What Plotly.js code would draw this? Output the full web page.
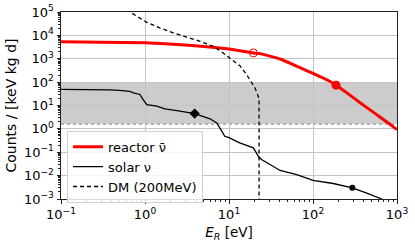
<!DOCTYPE html>
<html><head><meta charset="utf-8">
<script src="https://cdn.plot.ly/plotly-3.0.1.min.js"></script>
<style>html,body{margin:0;padding:0;background:#fff;}#plot{width:415px;height:243px;}</style>
</head><body><div id="plot"></div>
<script>
// Reactor antineutrino spectrum
const reactorE = [0.1, 0.3, 1, 3, 10, 19.5, 23.4, 40.5, 70, 100, 150, 188, 251, 363, 501, 631, 794, 1000];
const reactorV = [5300, 5100, 4800, 3900, 2600, 1780, 1660, 977, 417, 234, 120, 74, 35.5, 13.2, 5.75, 3.16, 1.74, 0.93];
// Solar neutrino spectrum
const solarE = [0.1, 0.2, 0.38, 0.5, 0.66, 0.73, 0.87, 0.95, 1.05, 1.38, 1.73, 2.4, 3.9, 5.95, 7.15, 8.2, 8.9, 10, 13.4, 19.5, 22.3, 24.4, 30, 40.6, 64, 92, 100, 174, 294, 437, 658, 1000];
const solarV = [49, 48.5, 47, 44, 40, 35, 29.6, 17.8, 11, 9.4, 7.2, 6.0, 4.5, 2.7, 1.8, 0.8, 0.48, 0.42, 0.25, 0.155, 0.068, 0.049, 0.032, 0.0166, 0.011, 0.0072, 0.0062, 0.0046, 0.003, 0.0018, 0.001, 0.00035];
// Dark matter (200 MeV)
const dmE = [0.6, 0.66, 0.8, 1.05, 1.5, 2.2, 3.4, 4.5, 6.5, 8, 10.2, 13.5, 16.2, 18.5, 20.4, 21.5, 22.3, 22.8, 22.8];
const dmV = [125000, 100000, 65000, 36000, 21000, 12500, 7700, 5600, 3400, 2100, 1070, 500, 210, 105, 56, 35, 24, 20, 1e-5];
// Highlighted points
const reactorOpenE = [19.5], reactorOpenV = [1780];
const reactorFillE = [188], reactorFillV = [74];
const solarDiamondE = [3.9], solarDiamondV = [4.5];
const solarDotE = [294], solarDotV = [0.003];
// Shaded band
const bandLow = 1.6, bandHigh = 100;
// Ticks
const xTickVals = [0.1, 1, 10, 100, 1000];
const xTickText = ['10<sup>−1</sup>', '10<sup>0</sup>', '10<sup>1</sup>', '10<sup>2</sup>', '10<sup>3</sup>'];
const yTickVals = [1e-3, 1e-2, 1e-1, 1, 10, 100, 1e3, 1e4, 1e5];
const yTickText = ['10<sup>−3</sup>', '10<sup>−2</sup>', '10<sup>−1</sup>', '10<sup>0</sup>', '10<sup>1</sup>', '10<sup>2</sup>', '10<sup>3</sup>', '10<sup>4</sup>', '10<sup>5</sup>'];

function minorVals(lo, hi) {
  const out = [];
  for (let d = lo; d < hi; d++) for (let m = 2; m <= 9; m++) out.push(m * Math.pow(10, d));
  return out;
}

const traces = [
  {x: reactorE, y: reactorV, mode: 'lines', name: 'reactor ν̄', line: {color: '#ff0000', width: 3, shape: 'spline', smoothing: 0.4}},
  {x: solarE, y: solarV, mode: 'lines', name: 'solar ν', line: {color: '#000000', width: 1.3}},
  {x: dmE, y: dmV, mode: 'lines', name: 'DM (200MeV)', line: {color: '#000000', width: 1.3, dash: '4px,3px'}},
  {x: reactorOpenE, y: reactorOpenV, mode: 'markers', showlegend: false, marker: {symbol: 'circle-open', size: 8, color: '#ff0000', line: {width: 1, color: '#ff0000'}}},
  {x: reactorFillE, y: reactorFillV, mode: 'markers', showlegend: false, marker: {symbol: 'circle', size: 9, color: '#ff0000'}},
  {x: solarDiamondE, y: solarDiamondV, mode: 'markers', showlegend: false, marker: {symbol: 'diamond', size: 8, color: '#000000'}},
  {x: solarDotE, y: solarDotV, mode: 'markers', showlegend: false, marker: {symbol: 'circle', size: 6, color: '#000000'}}
];

const axisCommon = {
  type: 'log', showline: true, linecolor: '#222', linewidth: 1, mirror: true,
  ticks: 'outside', ticklen: 3.5, tickcolor: '#222', tickwidth: 1,
  showgrid: true, gridcolor: '#c4c4c4', gridwidth: 1, zeroline: false,
  tickfont: {family: 'DejaVu Sans', size: 13, color: '#000'}
};

const layout = {
  width: 415, height: 243,
  margin: {l: 61, r: 18, t: 12, b: 44},
  paper_bgcolor: '#fff', plot_bgcolor: '#fff',
  font: {family: 'DejaVu Sans', color: '#000'},
  showlegend: true,
  legend: {x: 0.018, y: 0.365, xanchor: 'left', yanchor: 'top',
    bgcolor: 'rgba(255,255,255,0.85)', bordercolor: '#d0d0d0', borderwidth: 1,
    font: {family: 'DejaVu Sans', size: 13, color: '#000'}, tracegroupgap: 0},
  xaxis: Object.assign({}, axisCommon, {
    range: [-1, 3], tickmode: 'array', tickvals: xTickVals, ticktext: xTickText,
    minor: {tickmode: 'array', tickvals: minorVals(-1, 3), ticks: 'outside', ticklen: 2, tickcolor: '#222', showgrid: false},
    title: {text: '<i>E</i><sub><i>R</i></sub> [eV]', font: {family: 'DejaVu Sans', size: 13.5}, standoff: 6}
  }),
  yaxis: Object.assign({}, axisCommon, {
    range: [-3, 5], tickmode: 'array', tickvals: yTickVals, ticktext: yTickText,
    minor: {tickmode: 'array', tickvals: minorVals(-3, 5), ticks: 'outside', ticklen: 2, tickcolor: '#222', showgrid: false},
    title: {text: 'Counts / [keV kg d]', font: {family: 'DejaVu Sans', size: 14}, standoff: 4}
  }),
  shapes: [
    {type: 'rect', xref: 'paper', x0: 0, x1: 1, yref: 'y', y0: bandLow, y1: bandHigh, fillcolor: '#cccccc', line: {width: 0}, layer: 'below'},
    {type: 'line', xref: 'paper', x0: 0, x1: 1, yref: 'y', y0: bandLow, y1: bandLow, line: {color: '#999999', width: 1.2, dash: 'dot'}, layer: 'below'}
  ]
};

Plotly.newPlot('plot', traces, layout, {staticPlot: true, displayModeBar: false});
</script></body></html>
